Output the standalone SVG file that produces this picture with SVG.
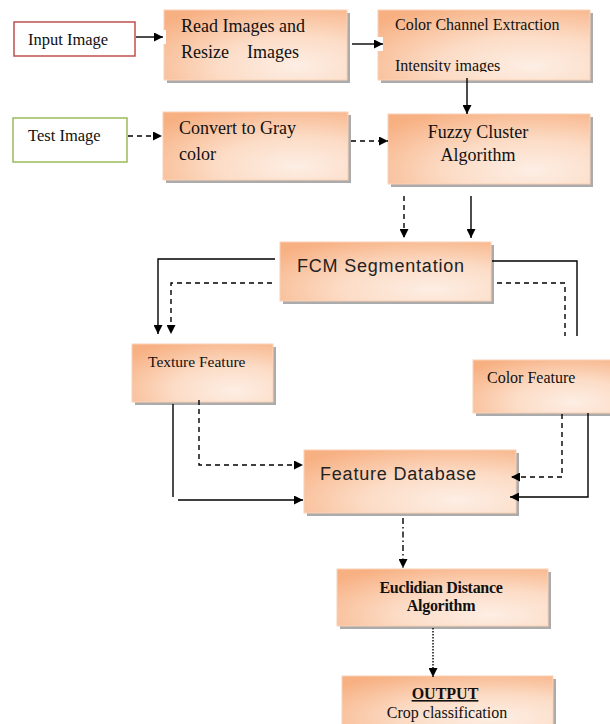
<svg xmlns="http://www.w3.org/2000/svg" width="610" height="724" viewBox="0 0 610 724">
  <defs>
    <radialGradient id="peach" cx="0.72" cy="0.8" r="0.95" fx="0.72" fy="0.8">
      <stop offset="0" stop-color="#fdeee4"/>
      <stop offset="0.45" stop-color="#fcdcc6"/>
      <stop offset="1" stop-color="#f7b082"/>
    </radialGradient>
    <marker id="arrow" viewBox="0 0 10 10" refX="10" refY="5" markerWidth="9" markerHeight="9" markerUnits="userSpaceOnUse" orient="auto">
      <path d="M0,0 L10,5 L0,10 Z" fill="#000"/>
    </marker>
    <clipPath id="clipChannel">
      <rect x="378" y="10" width="212" height="62"/>
    </clipPath>
  </defs>
  <style>
    .shadow { fill: #9c9c9c; opacity: 0.85; }
    .box { fill: url(#peach); stroke: #fad2b6; stroke-width: 1; }
    .plain { fill: #fff; stroke-width: 1.5; }
    .serif { font-family: "Liberation Serif", "Times New Roman", serif; fill: #111; }
    .sans { font-family: "Liberation Sans", Arial, sans-serif; fill: #222; letter-spacing: 0.8px; }
    .bold { font-weight: bold; }
    .conn line, .conn polyline { fill: none; stroke: #000; stroke-width: 1.4; }
    .dash { stroke-dasharray: 5 4; }
    .dashdot { stroke-dasharray: 6 3 1.5 3; }
    .dot { stroke-dasharray: 1.5 1.5; }
    .notch { fill: #fff; }
  </style>

  <rect width="610" height="724" fill="#fff"/>

  <!-- Nodes -->
  <g id="input-image">
    <rect class="plain" x="14" y="22" width="121" height="34" stroke="#c0504d"/>
    <text class="serif" x="28" y="45" font-size="16.5">Input Image</text>
  </g>

  <g id="read-images">
    <rect class="shadow" x="167" y="13" width="183" height="70"/>
    <rect class="box" x="164" y="10" width="183" height="70"/>
    <text class="serif" x="181" y="32" font-size="18">Read Images and</text>
    <text class="serif" x="181" y="58" font-size="18" xml:space="preserve">Resize    Images</text>
  </g>

  <g id="color-channel">
    <rect class="shadow" x="381" y="13" width="212" height="70"/>
    <rect class="box" x="378" y="10" width="212" height="70"/>
    <text class="serif" x="395" y="30" font-size="16">Color Channel Extraction</text>
    <text class="serif" x="395" y="71" font-size="16" clip-path="url(#clipChannel)">Intensity images</text>
  </g>

  <g id="test-image">
    <rect class="plain" x="13" y="118" width="114" height="44" stroke="#9bbb59"/>
    <text class="serif" x="28" y="141" font-size="16.5">Test Image</text>
  </g>

  <g id="convert-gray">
    <rect class="shadow" x="166" y="115" width="185" height="68"/>
    <rect class="box" x="163" y="112" width="185" height="68"/>
    <text class="serif" x="179" y="134" font-size="18">Convert to Gray</text>
    <text class="serif" x="179" y="160" font-size="18">color</text>
  </g>

  <g id="fuzzy-cluster">
    <rect class="shadow" x="391" y="117" width="202" height="70"/>
    <rect class="box" x="388" y="114" width="202" height="70"/>
    <text class="serif" x="478" y="138" font-size="18" text-anchor="middle">Fuzzy Cluster</text>
    <text class="serif" x="478" y="161" font-size="18" text-anchor="middle">Algorithm</text>
  </g>

  <g id="fcm-segmentation">
    <rect class="shadow" x="283" y="245" width="211" height="59"/>
    <rect class="box" x="280" y="242" width="211" height="59"/>
    <text class="sans" x="297" y="272" font-size="18">FCM Segmentation</text>
  </g>

  <g id="texture-feature">
    <rect class="shadow" x="135" y="347" width="141" height="58"/>
    <rect class="box" x="132" y="344" width="141" height="58"/>
    <text class="serif" x="148" y="367" font-size="15.5">Texture Feature</text>
  </g>

  <g id="color-feature">
    <rect class="shadow" x="476" y="363" width="140" height="53"/>
    <rect class="box" x="473" y="360" width="140" height="53"/>
    <text class="serif" x="487" y="383" font-size="16">Color Feature</text>
  </g>

  <g id="feature-database">
    <rect class="shadow" x="307" y="453" width="212" height="63"/>
    <rect class="box" x="304" y="450" width="212" height="63"/>
    <text class="sans" x="320" y="480" font-size="18">Feature Database</text>
  </g>

  <g id="euclidian-distance">
    <rect class="shadow" x="340" y="572" width="211" height="57"/>
    <rect class="box" x="337" y="569" width="211" height="57"/>
    <text class="serif bold" x="441" y="593" font-size="16" text-anchor="middle" letter-spacing="-0.3">Euclidian Distance</text>
    <text class="serif bold" x="441" y="611" font-size="16" text-anchor="middle" letter-spacing="-0.3">Algorithm</text>
  </g>

  <g id="output">
    <rect class="shadow" x="345" y="679" width="211" height="50"/>
    <rect class="box" x="342" y="676" width="211" height="52"/>
    <text class="serif bold" x="445" y="699" font-size="16" text-anchor="middle" text-decoration="underline">OUTPUT</text>
    <text class="serif" x="447" y="718" font-size="16" text-anchor="middle">Crop classification</text>
  </g>

  <!-- Connectors -->
  <g id="connectors" class="conn">
    <rect class="notch" x="160" y="30" width="6" height="14"/>
    <line x1="136" y1="37" x2="163" y2="37" marker-end="url(#arrow)"/>
    <rect class="notch" x="377" y="37" width="6" height="14"/>
    <line x1="352" y1="44" x2="383" y2="44" marker-end="url(#arrow)"/>
    <line x1="467" y1="78" x2="467" y2="114" marker-end="url(#arrow)"/>

    <line class="dash" x1="128" y1="136" x2="162" y2="136" marker-end="url(#arrow)"/>
    <line class="dash" x1="351" y1="141" x2="388" y2="141" marker-end="url(#arrow)"/>

    <line class="dash" x1="404" y1="196" x2="404" y2="238" marker-end="url(#arrow)"/>
    <line x1="471" y1="196" x2="471" y2="238" marker-end="url(#arrow)"/>

    <polyline points="275,259 158,259 158,334" marker-end="url(#arrow)"/>
    <polyline class="dash" points="272,283 171,283 171,334" marker-end="url(#arrow)"/>
    <polyline points="492,261 577,261 577,336"/>
    <polyline class="dash" points="497,283 565,283 565,336"/>

    <line x1="173" y1="404" x2="173" y2="497"/>
    <line x1="178" y1="500" x2="303" y2="500" marker-end="url(#arrow)"/>
    <polyline class="dash" points="199,400 199,465 303,465" marker-end="url(#arrow)"/>
    <polyline class="dash" points="562,414 562,477 511,477" marker-end="url(#arrow)"/>
    <polyline points="588,413 588,497 510,497" marker-end="url(#arrow)"/>

    <line class="dashdot" x1="403" y1="518" x2="403" y2="568" marker-end="url(#arrow)"/>
    <line class="dot" x1="433" y1="628" x2="433" y2="677" marker-end="url(#arrow)"/>
  </g>
</svg>
